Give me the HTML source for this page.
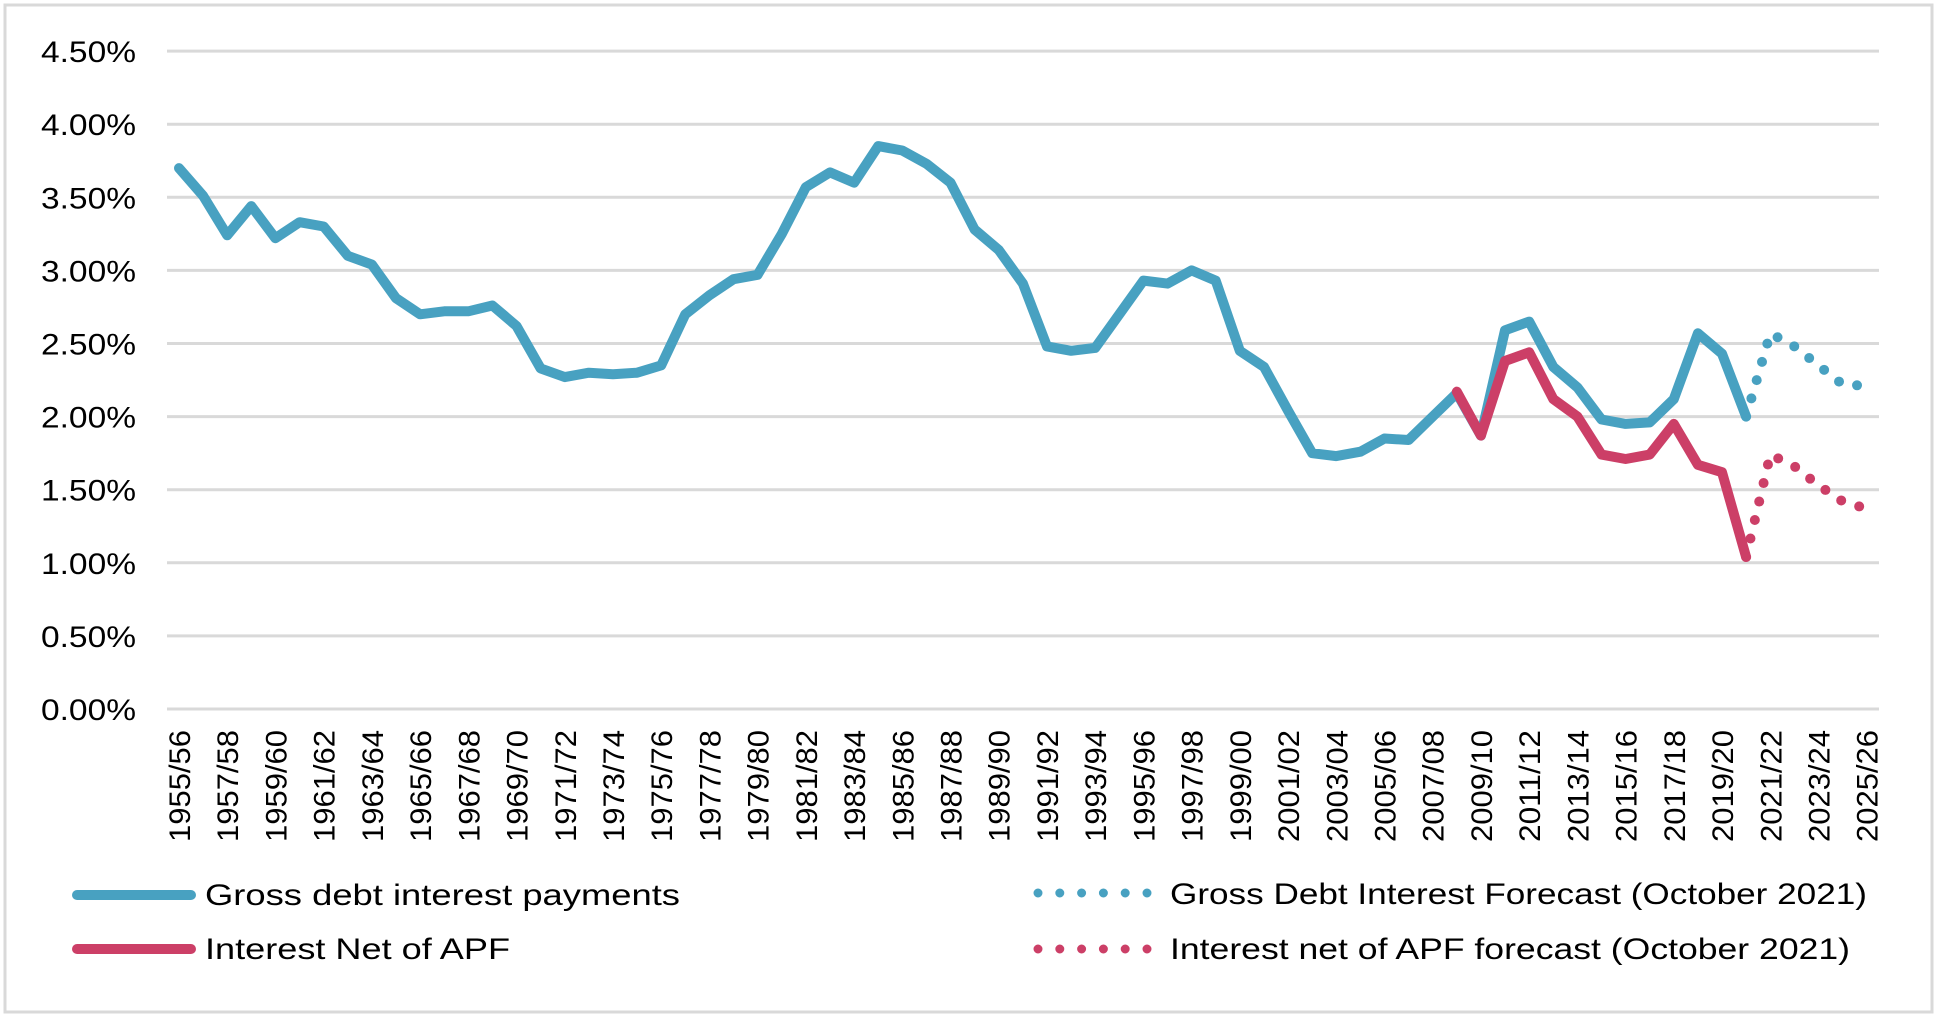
<!DOCTYPE html>
<html><head><meta charset="utf-8"><style>
html,body{margin:0;padding:0;background:#fff;}
svg{display:block;font-family:"Liberation Sans",sans-serif;}
</style></head><body>
<svg id="s" width="1938" height="1017" xmlns="http://www.w3.org/2000/svg">
<rect x="5" y="5" width="1927" height="1007" fill="#fff" stroke="#d9d9d9" stroke-width="3"/>
<g id="g"></g>
</svg>
<script>
var g=document.getElementById('g'),h='';
function Y(v){return 709-v*146.2;}
function X(i){return 179+i*24.11;}
for(var k=0;k<=9;k++){var v=k*0.5,y=Y(v);
h+='<line x1="167" x2="1879" y1="'+y+'" y2="'+y+'" stroke="#d9d9d9" stroke-width="3"/>';
h+='<text x="136" y="'+(y+11)+'" text-anchor="end" font-size="30" textLength="95" lengthAdjust="spacingAndGlyphs" fill="#000">'+v.toFixed(2)+'%</text>';}
for(var i=0;i<71;i+=2){var yr=1955+i,lab=yr+'/'+String((yr+1)%100).padStart(2,'0');
h+='<text transform="translate('+(X(i)+11)+',730) rotate(-90)" text-anchor="end" font-size="30" textLength="112" lengthAdjust="spacingAndGlyphs" fill="#000">'+lab+'</text>';}
var gross=[3.70,3.51,3.24,3.44,3.22,3.33,3.30,3.10,3.04,2.81,2.70,2.72,2.72,2.76,2.62,2.33,2.27,2.30,2.29,2.30,2.35,2.70,2.83,2.94,2.97,3.25,3.57,3.67,3.60,3.85,3.82,3.73,3.60,3.28,3.14,2.91,2.48,2.45,2.47,2.70,2.93,2.91,3.00,2.93,2.45,2.34,2.04,1.75,1.73,1.76,1.85,1.84,2.00,2.16,1.87,2.59,2.65,2.34,2.20,1.98,1.95,1.96,2.12,2.57,2.43,2.00];
var red=[2.17,1.87,2.38,2.44,2.12,2.00,1.74,1.71,1.74,1.95,1.67,1.62,1.04];
var gf=[2.00,2.57,2.48,2.35,2.22,2.21];
var rf=[1.04,1.74,1.66,1.53,1.42,1.37];
function pts(a,s){return a.map(function(v,j){return X(s+j).toFixed(1)+','+Y(v).toFixed(1);}).join(' ');}
h+='<polyline points="'+pts(gf,65)+'" fill="none" stroke="#48a1c1" stroke-width="10" stroke-linecap="round" stroke-dasharray="0 19"/>';
h+='<polyline points="'+pts(rf,65)+'" fill="none" stroke="#cc3f67" stroke-width="10" stroke-linecap="round" stroke-dasharray="0 19"/>';
h+='<polyline points="'+pts(gross,0)+'" fill="none" stroke="#48a1c1" stroke-width="10" stroke-linejoin="round" stroke-linecap="round"/>';
h+='<polyline points="'+pts(red,53)+'" fill="none" stroke="#cc3f67" stroke-width="10" stroke-linejoin="round" stroke-linecap="round"/>';
h+='<line x1="77" x2="191" y1="895" y2="895" stroke="#48a1c1" stroke-width="10" stroke-linecap="round"/>';
h+='<line x1="77" x2="191" y1="949" y2="949" stroke="#cc3f67" stroke-width="10" stroke-linecap="round"/>';
h+='<text x="205" y="905" font-size="30" textLength="475" lengthAdjust="spacingAndGlyphs">Gross debt interest payments</text>';
h+='<text x="205" y="959" font-size="30" textLength="305" lengthAdjust="spacingAndGlyphs">Interest Net of APF</text>';
h+='<line x1="1038" x2="1149" y1="893" y2="893" stroke="#48a1c1" stroke-width="9" stroke-linecap="round" stroke-dasharray="0 21.8"/>';
h+='<line x1="1038" x2="1149" y1="949" y2="949" stroke="#cc3f67" stroke-width="9" stroke-linecap="round" stroke-dasharray="0 21.8"/>';
h+='<text x="1170" y="904" font-size="30" textLength="697" lengthAdjust="spacingAndGlyphs">Gross Debt Interest Forecast (October 2021)</text>';
h+='<text x="1170" y="959" font-size="30" textLength="680" lengthAdjust="spacingAndGlyphs">Interest net of APF forecast (October 2021)</text>';
g.innerHTML=h;
</script>
</body></html>
